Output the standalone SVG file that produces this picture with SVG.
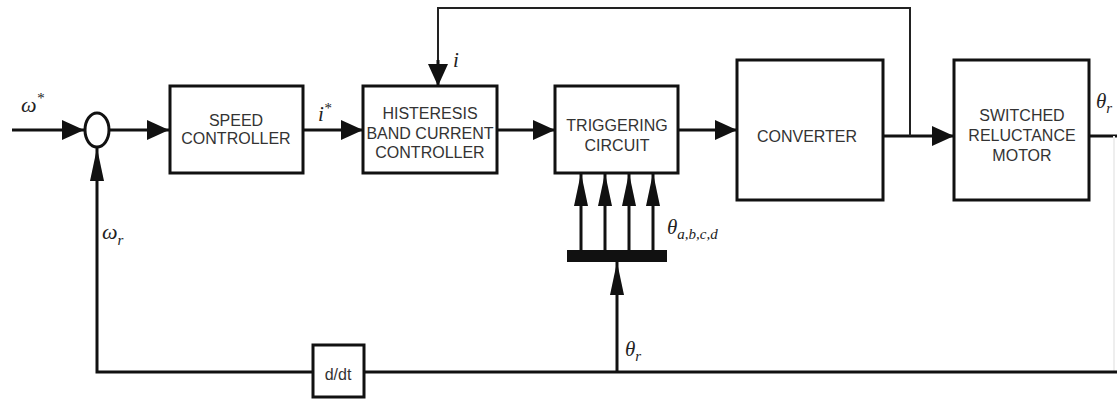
<svg xmlns="http://www.w3.org/2000/svg" width="1117" height="399" viewBox="0 0 1117 399">
<defs>
<marker id="ah" markerWidth="22" markerHeight="20" refX="22" refY="10" orient="auto" markerUnits="userSpaceOnUse">
<path d="M0,0 L22,10 L0,20 Z" fill="#111"/>
</marker>
<marker id="an" markerWidth="33" markerHeight="14" refX="33" refY="7" orient="auto" markerUnits="userSpaceOnUse">
<path d="M0,0 L33,7 L0,14 Z" fill="#111"/>
</marker>
<style>
.box{fill:#fff;stroke:#111;stroke-width:3}
.ln{fill:none;stroke:#111;stroke-width:3}
.lt{fill:none;stroke:#222;stroke-width:2}
.t{font-family:"Liberation Sans",Arial,sans-serif;font-size:16px;fill:#333;text-anchor:middle}
.m{font-family:"Liberation Serif","Times New Roman",serif;font-style:italic;fill:#222}
</style>
</defs>
<rect width="1117" height="399" fill="#fff"/>
<g id="connectors">
<line class="ln" x1="12" y1="130" x2="84" y2="130" marker-end="url(#ah)"/>
<line class="ln" x1="109" y1="130" x2="169" y2="130" marker-end="url(#ah)"/>
<line class="ln" x1="303" y1="130" x2="363" y2="130" marker-end="url(#ah)"/>
<line class="ln" x1="497" y1="130" x2="555" y2="130" marker-end="url(#ah)"/>
<line class="ln" x1="678" y1="130" x2="737" y2="130" marker-end="url(#ah)"/>
<line class="ln" x1="883" y1="136" x2="954" y2="136" marker-end="url(#ah)"/>
<polyline class="lt" points="910,136 910,8 438,8 438,62"/>
<line class="ln" x1="438" y1="60" x2="438" y2="86" marker-end="url(#ah)"/>
<line class="ln" x1="1089" y1="136" x2="1117" y2="136"/>
<line x1="1114" y1="136" x2="1114" y2="372" stroke="#eee" stroke-width="2"/>
<line class="ln" x1="1117" y1="372" x2="364" y2="372"/>
<polyline class="ln" points="313,372 97,372 97,148" marker-end="url(#an)"/>
<line class="ln" x1="617" y1="372" x2="617" y2="262" marker-end="url(#an)"/>
<line class="ln" x1="581" y1="250" x2="581" y2="173" marker-end="url(#an)"/>
<line class="ln" x1="605" y1="250" x2="605" y2="173" marker-end="url(#an)"/>
<line class="ln" x1="629" y1="250" x2="629" y2="173" marker-end="url(#an)"/>
<line class="ln" x1="653" y1="250" x2="653" y2="173" marker-end="url(#an)"/>
<rect x="567" y="250" width="100" height="12" fill="#111"/>
</g>
<g id="sum">
<ellipse cx="97" cy="130" rx="12" ry="17" fill="#fff" stroke="#111" stroke-width="3"/>
</g>
<g id="speed">
<rect class="box" x="170" y="86" width="133" height="87"/>
<text class="t" x="236" y="126">SPEED</text>
<text class="t" x="236" y="144">CONTROLLER</text>
</g>
<g id="hyst">
<rect class="box" x="363" y="86" width="134" height="87"/>
<text class="t" x="430" y="119">HISTERESIS</text>
<text class="t" x="430" y="139">BAND CURRENT</text>
<text class="t" x="430" y="158">CONTROLLER</text>
</g>
<g id="trig">
<rect class="box" x="555" y="86" width="123" height="87"/>
<text class="t" x="617" y="131">TRIGGERING</text>
<text class="t" x="617" y="151">CIRCUIT</text>
</g>
<g id="conv">
<rect class="box" x="737" y="60" width="146" height="140"/>
<text class="t" x="807" y="142">CONVERTER</text>
</g>
<g id="motor">
<rect class="box" x="954" y="60" width="135" height="140"/>
<text class="t" x="1022" y="121">SWITCHED</text>
<text class="t" x="1022" y="141">RELUCTANCE</text>
<text class="t" x="1022" y="161">MOTOR</text>
</g>
<g id="ddt">
<rect class="box" x="313" y="345" width="51" height="52"/>
<text class="t" x="338" y="380" font-size="14">d/dt</text>
</g>
<g id="labels">
<text class="m" x="21" y="112" font-size="22">ω<tspan font-size="15" dy="-9">*</tspan></text>
<text class="m" x="318" y="121" font-size="21">i<tspan font-size="15" dy="-8">*</tspan></text>
<text class="m" x="453" y="67" font-size="21">i</text>
<text class="m" x="102" y="239" font-size="22">ω<tspan font-size="15" dy="6">r</tspan></text>
<text class="m" x="667" y="234" font-size="21">θ<tspan font-size="15" dy="5">a,b,c,d</tspan></text>
<text class="m" x="625" y="356" font-size="21">θ<tspan font-size="15" dy="5">r</tspan></text>
<text class="m" x="1096" y="108" font-size="21">θ<tspan font-size="15" dy="5">r</tspan></text>
</g>
</svg>
